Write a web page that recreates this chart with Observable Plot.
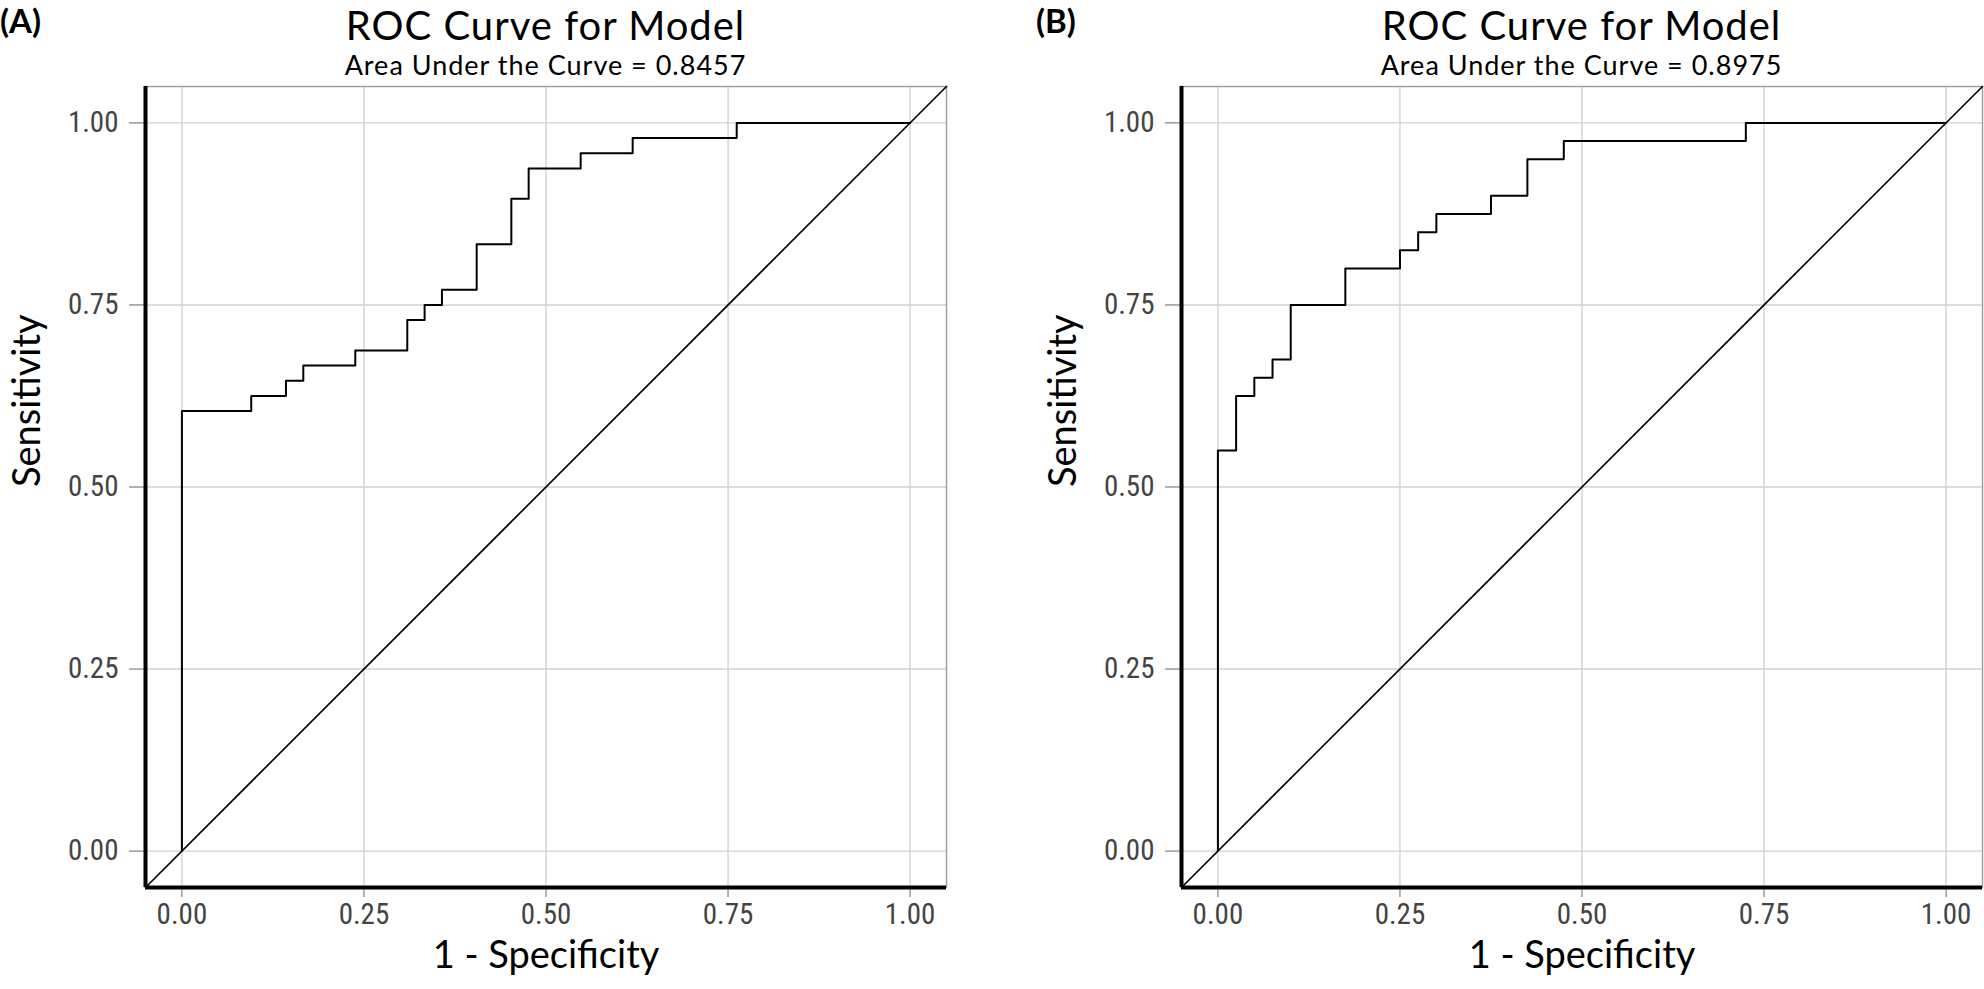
<!DOCTYPE html>
<html>
<head>
<meta charset="utf-8">
<script src="https://cdn.jsdelivr.net/npm/d3@7"></script>
<script src="https://cdn.jsdelivr.net/npm/@observablehq/plot@0.6"></script>
<style>
  html, body { margin: 0; padding: 0; background: #fff; }
  #wrap { position: relative; width: 1984px; height: 989px; overflow: hidden; font-family: Lato, "Open Sans", sans-serif; color: #000; }
  .panel { position: absolute; top: 0; width: 948px; height: 989px; }
  .tag { position: absolute; left: 0; top: 1px; font-weight: bold; font-size: 33px; line-height: 1.2; }
  .title { position: absolute; left: 145px; width: 801px; text-align: center; line-height: 1.2; white-space: nowrap; }
  .t1 { top: 1px; font-size: 40px; letter-spacing: 1px; }
  .t2 { top: 49px; font-size: 27px; letter-spacing: 1px; }
  .panel svg { position: absolute; left: 0; top: 70px; }
</style>
</head>
<body>
<div id="wrap"></div>
<script>
// ---- data ----
const panelTags = ["(A)", "(B)"];
const titleText = "ROC Curve for Model";
const aucValues = ["0.8457", "0.8975"];
const xLabel = "1 - Specificity";
const yLabel = "Sensitivity";
const axisDomain = [-0.05, 1.05];
const tickValues = [0, 0.25, 0.5, 0.75, 1];
const diagonal = [-0.05, 1.05];

// Panel A ROC points (1 - specificity, sensitivity)
const fprA = [0, 0, 0.0952, 0.1429, 0.1667, 0.2381, 0.3095, 0.3333, 0.3571, 0.4048, 0.4524, 0.4762, 0.5476, 0.6190, 0.7619, 1];
const tprA = [0, 0.6042, 0.6250, 0.6458, 0.6667, 0.6875, 0.7292, 0.7500, 0.7708, 0.8333, 0.8958, 0.9375, 0.9583, 0.9792, 1, 1];
// Panel B ROC points
const fprB = [0, 0, 0.025, 0.05, 0.075, 0.10, 0.175, 0.25, 0.275, 0.30, 0.375, 0.425, 0.475, 0.725, 1];
const tprB = [0, 0.55, 0.625, 0.65, 0.675, 0.75, 0.80, 0.825, 0.85, 0.875, 0.90, 0.95, 0.975, 1, 1];

const panels = [
  {tag: panelTags[0], auc: aucValues[0], fpr: fprA, tpr: tprA, left: 0},
  {tag: panelTags[1], auc: aucValues[1], fpr: fprB, tpr: tprB, left: 1036}
];

const wrap = document.getElementById("wrap");
const tickFont = '"Liberation Sans Narrow", "Roboto Condensed", Roboto, sans-serif';

for (const p of panels) {
  const div = document.createElement("div");
  div.className = "panel";
  div.style.left = p.left + "px";

  const tag = document.createElement("div");
  tag.className = "tag"; tag.textContent = p.tag;
  const t1 = document.createElement("div");
  t1.className = "title t1"; t1.textContent = titleText;
  const t2 = document.createElement("div");
  t2.className = "title t2"; t2.textContent = "Area Under the Curve = " + p.auc;
  div.append(tag, t1, t2);

  const roc = p.fpr.map((x, i) => ({fpr: x, tpr: p.tpr[i]}));
  const diag = diagonal.map(v => ({x: v, y: v}));

  const chart = Plot.plot({
    width: 948,
    height: 919,
    marginLeft: 145,
    marginRight: 2,
    marginTop: 16,
    marginBottom: 102,
    style: {fontFamily: tickFont, fontSize: "29px", color: "#444", background: "transparent"},
    x: {domain: axisDomain, label: null},
    y: {domain: axisDomain, label: null},
    marks: [
      Plot.gridX(tickValues, {stroke: "#d2d2d2", strokeOpacity: 1, strokeWidth: 1.4}),
      Plot.gridY(tickValues, {stroke: "#d2d2d2", strokeOpacity: 1, strokeWidth: 1.4}),
      Plot.frame({stroke: "#a0a0a0", strokeWidth: 1.5}),
      Plot.axisX(tickValues, {tickSize: 10, tickPadding: 6, tickFormat: d3.format(".2f"), stroke: "#666", fill: "#444", label: null, fontSize: 29}),
      Plot.axisY(tickValues, {tickSize: 16, tickPadding: 11, tickFormat: d3.format(".2f"), stroke: "#666", fill: "#444", label: null, fontSize: 29}),
      Plot.line(diag, {x: "x", y: "y", stroke: "#000", strokeWidth: 1.6}),
      Plot.line(roc, {x: "fpr", y: "tpr", curve: "step-after", stroke: "#000", strokeWidth: 2}),
      Plot.ruleX([axisDomain[0]], {stroke: "#000", strokeWidth: 4}),
      Plot.ruleY([axisDomain[0]], {stroke: "#000", strokeWidth: 4}),
      Plot.text([xLabel], {frameAnchor: "bottom", dy: 80, fontSize: 38, fill: "#000", fontFamily: "Lato, sans-serif"}),
      Plot.text([yLabel], {frameAnchor: "left", dx: -118, rotate: -90, fontSize: 38, fill: "#000", fontFamily: "Lato, sans-serif"})
    ]
  });
  div.append(chart);
  wrap.append(div);
}
</script>
</body>
</html>
